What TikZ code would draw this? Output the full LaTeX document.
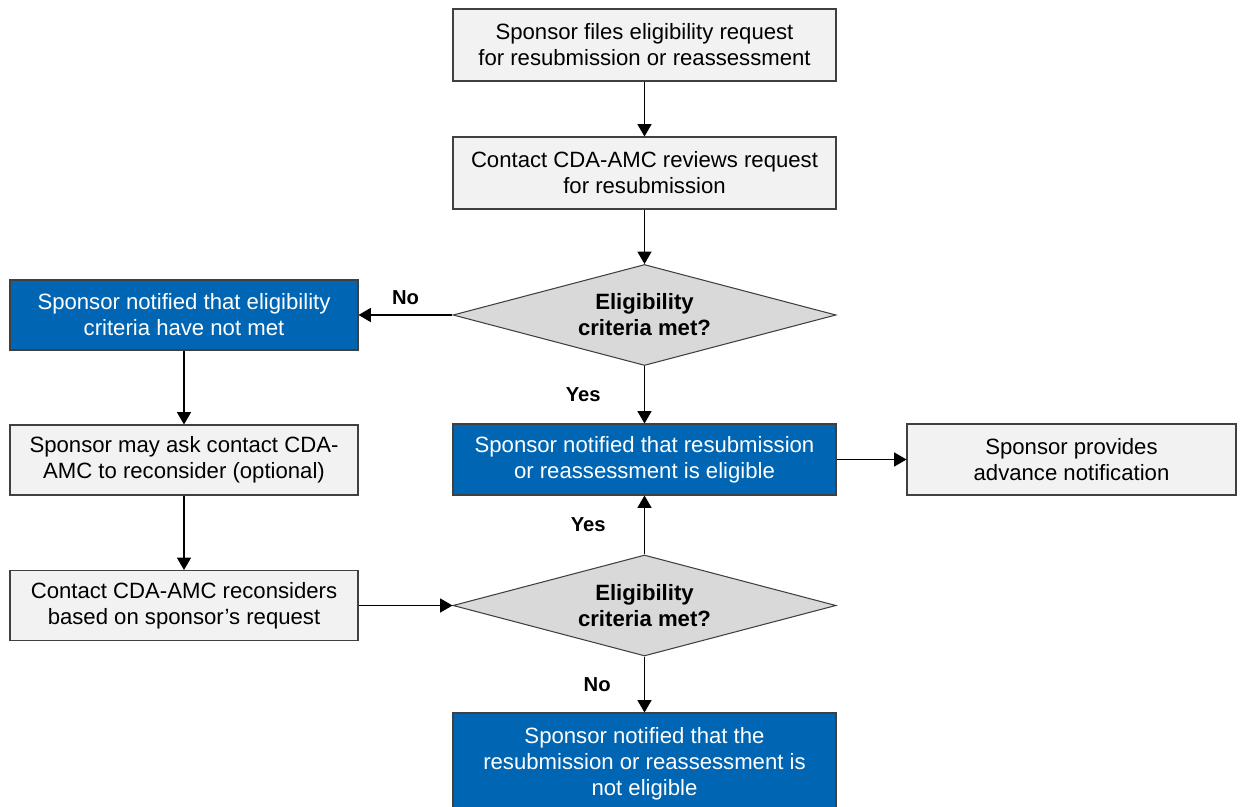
\documentclass[tikz,border=0pt]{standalone}
\usepackage{fontspec}
\setmainfont{Liberation Sans}
\usetikzlibrary{shapes.geometric, arrows.meta}
\definecolor{boxFill}{RGB}{242, 242, 242}
\definecolor{noticeColor}{RGB}{0, 102, 179}
\definecolor{decisionFill}{RGB}{217, 217, 217}
\definecolor{edgeColor}{RGB}{64, 64, 64}

\begin{document}
\begin{tikzpicture}[
    every node/.style={font=\fontsize{12.6}{14.8}\selectfont},
    step box/.style={draw=edgeColor, line width=0.6pt, fill=boxFill, align=center, inner sep=0pt, minimum width=7.66cm, minimum height=1.44cm},
    notice box/.style={step box, fill=noticeColor, text=white},
    decision/.style={diamond, aspect=3.8, draw=edgeColor, line width=0.6pt, fill=decisionFill, align=center, inner sep=0pt, minimum width=7.66cm, minimum height=2.02cm, font=\fontsize{12.6}{14.8}\selectfont\bfseries},
    flow arrow/.style={-{Triangle[length=7pt, width=8pt]}, line width=0.6pt},
    arrow label/.style={midway, font=\fontsize{11.5}{13}\selectfont\bfseries}
]
    \useasboundingbox (0,0) rectangle (24.9,-16.14);

    \node[step box] (request) at (12.89,-0.90) {Sponsor files eligibility request\\for resubmission or reassessment};
    \node[step box] (review) at (12.89,-3.46) {Contact CDA-AMC reviews request\\for resubmission};
    \node[decision] (check1) at (12.89,-6.30) {Eligibility\\criteria met?};

    \node[notice box, minimum width=6.96cm, minimum height=1.40cm] (notmet) at (3.68,-6.30) {Sponsor notified that eligibility\\criteria have not met};
    \node[step box, minimum width=6.96cm, minimum height=1.40cm] (ask) at (3.68,-9.20) {Sponsor may ask contact CDA-\\AMC to reconsider (optional)};
    \node[step box, minimum width=6.96cm, minimum height=1.40cm] (reconsider) at (3.68,-12.11) {Contact CDA-AMC reconsiders\\based on sponsor’s request};

    \node[notice box, minimum height=1.42cm] (eligible) at (12.89,-9.19) {Sponsor notified that resubmission\\or reassessment is eligible};
    \node[step box, minimum width=6.58cm, minimum height=1.42cm] (advance) at (21.43,-9.19) {Sponsor provides\\advance notification};

    \node[decision] (check2) at (12.89,-12.11) {Eligibility\\criteria met?};
    \node[notice box, minimum height=2.04cm] (noteligible) at (12.89,-15.28) {Sponsor notified that the\\resubmission or reassessment is\\not eligible};

    \draw[flow arrow] (request) -- (review);
    \draw[flow arrow] (review) -- (check1);
    \draw[flow arrow] (check1.west) -- (notmet.east) node[arrow label, above=2pt] {No};
    \draw[flow arrow] (check1.south) -- (eligible.north) node[arrow label, left=0.75cm] {Yes};
    \draw[flow arrow] (notmet) -- (ask);
    \draw[flow arrow] (ask) -- (reconsider);
    \draw[flow arrow] (reconsider.east) -- (check2.west);
    \draw[flow arrow] (check2.north) -- (eligible.south) node[arrow label, left=0.65cm] {Yes};
    \draw[flow arrow] (eligible.east) -- (advance.west);
    \draw[flow arrow] (check2.south) -- (noteligible.north) node[arrow label, left=0.55cm] {No};
\end{tikzpicture}
\end{document}
